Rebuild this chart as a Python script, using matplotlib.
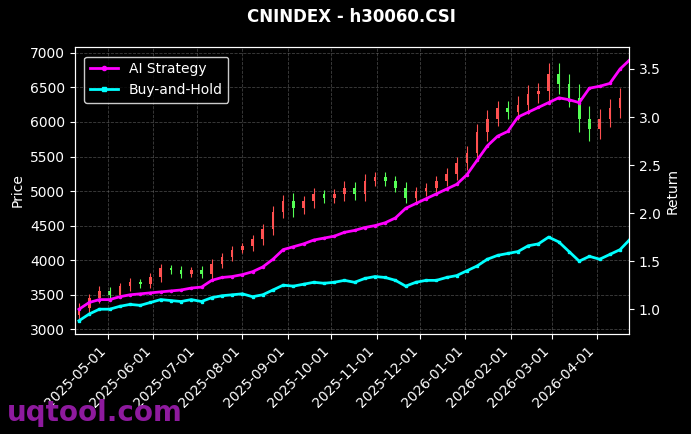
import numpy as np
import pandas as pd
import matplotlib
matplotlib.use("Agg")
import matplotlib.pyplot as plt
import matplotlib.dates as mdates
import matplotlib.lines as mlines

# weekly data
dates = pd.date_range("2025-04-11", periods=55, freq="7D")
close = [3300, 3450, 3550, 3500, 3620, 3680, 3650, 3750, 3880, 3850,
         3800, 3850, 3800, 3950, 4050, 4150, 4200, 4300, 4450, 4700,
         4850, 4750, 4850, 4950, 4900, 4950, 5050, 4950, 5150, 5200,
         5150, 5050, 4900, 5000, 5050, 5150, 5250, 5400, 5550, 5850,
         6050, 6200, 6150, 6250, 6400, 6450, 6700, 6550, 6350, 6050,
         5900, 6050, 6200, 6350, 6550]
wick = [80, 60, 70, 60, 50, 60, 50, 60, 70, 50,
        60, 50, 60, 70, 60, 60, 50, 70, 80, 90,
        90, 120, 80, 90, 70, 80, 90, 80, 90, 80,
        80, 70, 80, 60, 70, 70, 80, 90, 100, 120,
        120, 110, 100, 120, 130, 120, 150, 150, 140, 200,
        180, 140, 130, 140, 150]
ai_ret = [1.0, 1.07, 1.1, 1.1, 1.13, 1.15, 1.16, 1.17, 1.18, 1.19,
          1.2, 1.22, 1.23, 1.3, 1.33, 1.34, 1.36, 1.39, 1.44, 1.52,
          1.62, 1.65, 1.68, 1.72, 1.74, 1.76, 1.8, 1.82, 1.85, 1.87,
          1.9, 1.95, 2.05, 2.1, 2.15, 2.2, 2.25, 2.3, 2.4, 2.55,
          2.7, 2.8, 2.85, 3.0, 3.05, 3.1, 3.15, 3.2, 3.18, 3.15,
          3.3, 3.32, 3.35, 3.5, 3.6]
bh_ret = [0.88, 0.95, 1.0, 1.0, 1.03, 1.05, 1.04, 1.07, 1.1, 1.09,
          1.08, 1.1, 1.08, 1.12, 1.14, 1.15, 1.16, 1.13, 1.15, 1.2,
          1.25, 1.24, 1.26, 1.28, 1.27, 1.28, 1.3, 1.28, 1.32, 1.34,
          1.33, 1.3, 1.24, 1.28, 1.3, 1.3, 1.33, 1.35, 1.4, 1.45,
          1.52, 1.56, 1.58, 1.6, 1.66, 1.68, 1.75, 1.7, 1.6, 1.5,
          1.55, 1.52, 1.57, 1.62, 1.73]

opens = [3200] + close[:-1]

plt.style.use("dark_background")
fig, ax = plt.subplots(figsize=(6.91, 4.34), dpi=100)
fig.patch.set_facecolor("black")
ax.set_facecolor("black")

x = mdates.date2num(dates)
for xi, o, c, w in zip(x, opens, close, wick):
    col = "#ff5050" if c >= o else "#55ff55"
    ax.vlines(xi, min(o, c) - w, max(o, c) + w, color=col, lw=0.8)
    ax.bar(xi, abs(c - o) or 5, bottom=min(o, c), width=1.8, color=col, lw=0)

ax.set_ylim(2928, 7087)
ax.set_ylabel("Price", color="white")
ax.grid(True, ls="--", color="gray", alpha=0.5, lw=0.6)
ax.xaxis.set_major_locator(mdates.MonthLocator())
ax.xaxis.set_major_formatter(mdates.DateFormatter("%Y-%m-%d"))
plt.setp(ax.get_xticklabels(), rotation=45, ha="right")
ax.set_xlim(mdates.datestr2num("2025-04-08"), mdates.datestr2num("2026-04-23"))

ax2 = ax.twinx()
ax2.plot(dates, ai_ret, color="#ff00ff", lw=2, marker="o", ms=1.5)
ax2.plot(dates, bh_ret, color="#00ffff", lw=2, marker="s", ms=1.5)
ax2.set_ylim(0.74, 3.73)
ax2.set_ylabel("Return", color="white")

h1 = mlines.Line2D([], [], color="#ff00ff", lw=2, marker="o", ms=3, label="AI Strategy")
h2 = mlines.Line2D([], [], color="#00ffff", lw=2, marker="s", ms=3, label="Buy-and-Hold")
ax.legend(handles=[h1, h2], loc="upper left", facecolor="black", edgecolor="white",
          borderaxespad=0.7)

ax.set_title("CNINDEX - h30060.CSI", color="white", fontweight="bold", pad=18)
fig.text(0.01, 0.03, "uqtool.com", color="#8e1a9e", fontsize=20, fontweight="bold")
plt.subplots_adjust(left=0.108, right=0.91, top=0.892, bottom=0.23)
fig.savefig("out.png", dpi=100, facecolor="black")
